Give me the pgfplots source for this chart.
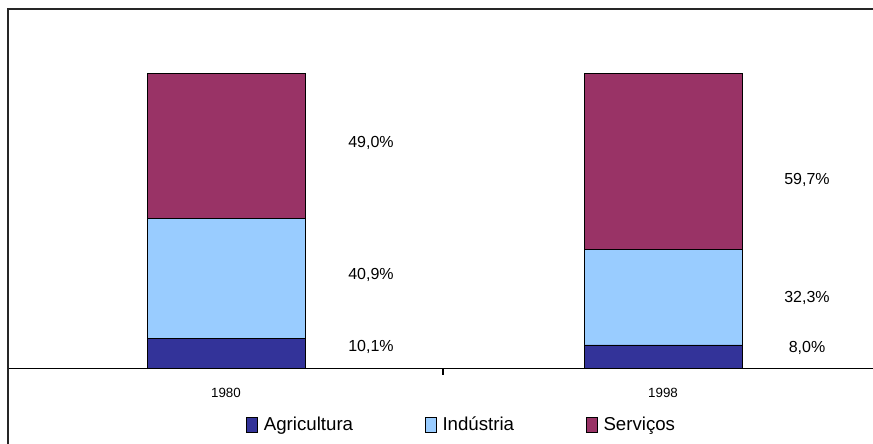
\documentclass[border=0pt]{standalone}
\usepackage{pgfplots}
\pgfplotsset{compat=1.18}
\usepackage{fontspec}
\setmainfont{Liberation Sans}
\definecolor{agri}{HTML}{333399}
\definecolor{indu}{HTML}{99CCFF}
\definecolor{serv}{HTML}{993366}
\pgfplotsset{sqleg/.style={legend image code/.code={\draw[##1,draw=black,line width=0.6pt] (0pt,-5.6pt) rectangle (8pt,5.6pt); \path (10.5pt,0pt);}}}
\begin{document}
\begin{tikzpicture}
\useasboundingbox (0,0) rectangle (654.75pt,332.25pt);
\begin{axis}[
  at={(6pt,55.875pt)}, anchor=south west,
  width=648.75pt, height=269.625pt, scale only axis,
  xmin=8, xmax=873, ymin=0, ymax=121.86,
  ybar stacked, bar width=158,
  axis x line=bottom, axis y line=none,
  axis line style={-, line width=0.8pt, black},
  xtick={226,663}, xticklabels={1980,1998}, major tick length=0pt,
  xticklabel style={font=\fontsize{10}{12}\selectfont, yshift=-11.5pt},
  extra x ticks={443}, extra x tick labels={},
  extra x tick style={major tick length=4.5pt, tick align=outside, tick style={black, line width=0.8pt}},
  legend style={at={(0.525,-0.156)}, anchor=center, draw=none, fill=none,
    legend columns=3, font=\fontsize{14}{16}\selectfont,
    /tikz/every even column/.append style={column sep=52pt}},
  clip=false,
]
\addplot[fill=agri, draw=black, line width=0.5pt, sqleg] coordinates {(226,10.1) (663,8.0)};
\addlegendentry{Agricultura}
\addplot[fill=indu, draw=black, line width=0.5pt, sqleg] coordinates {(226,40.9) (663,32.3)};
\addlegendentry{Indústria}
\addplot[fill=serv, draw=black, line width=0.5pt, sqleg] coordinates {(226,49.0) (663,59.7)};
\addlegendentry{Serviços}
\end{axis}
\begin{axis}[
  at={(6pt,55.875pt)}, anchor=south west,
  width=648.75pt, height=269.625pt, scale only axis,
  xmin=8, xmax=873, ymin=0, ymax=121.86, hide axis, clip=false,
]
\addplot[only marks, mark=none, nodes near coords, point meta=explicit symbolic,
  nodes near coords style={anchor=center, font=\fontsize{12}{14}\selectfont, text=black}]
  table[meta=lab] {
x y lab
371 76.4 49,0\%
371 31.7 40,9\%
371 7.3 10,1\%
807 63.9 59,7\%
807 23.9 32,3\%
807 6.9 8,0\%
};
\end{axis}
\draw[line width=1.2pt, black!85] (6pt,-20pt) rectangle (700pt,325.5pt);
\end{tikzpicture}
\end{document}
